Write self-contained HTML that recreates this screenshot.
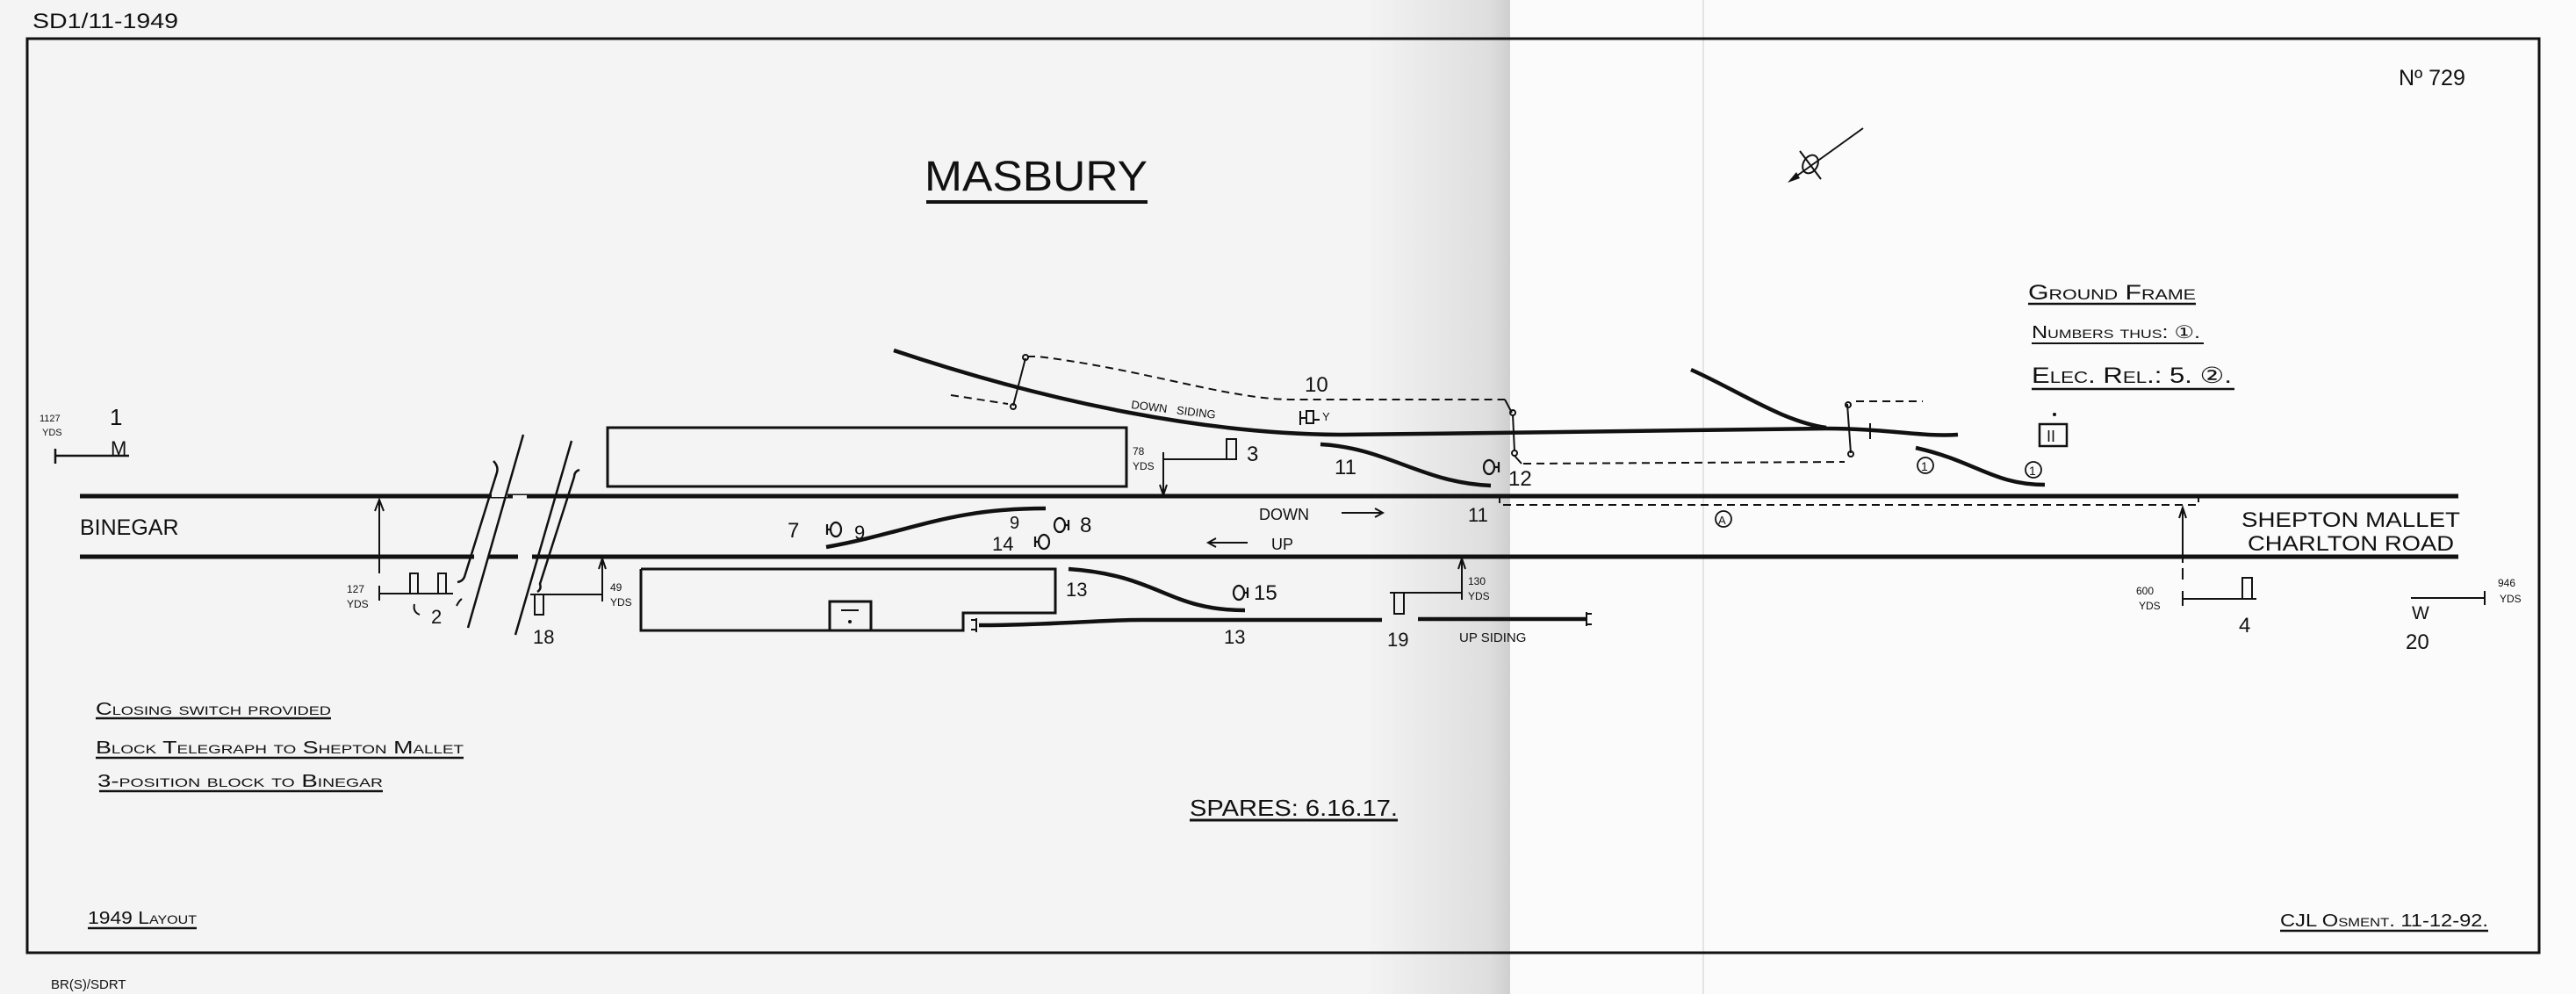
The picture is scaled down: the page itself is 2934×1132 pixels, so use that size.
<!DOCTYPE html>
<html><head><meta charset="utf-8"><style>
html,body{margin:0;padding:0}
body{width:2934px;height:1132px;overflow:hidden;background:#f5f5f5}
svg{display:block}
text{font-family:"Liberation Sans",sans-serif;fill:#111}
.sc{font-variant:small-caps}
</style></head><body>
<svg width="2934" height="1132" viewBox="0 0 2934 1132" xmlns="http://www.w3.org/2000/svg">
<defs>
<linearGradient id="fold" x1="0" x2="1" y1="0" y2="0">
<stop offset="0" stop-color="#f3f3f3"/><stop offset="0.85" stop-color="#dedede"/><stop offset="1" stop-color="#cfcfcf"/>
</linearGradient>
</defs>
<rect x="0" y="0" width="2934" height="1132" fill="#f4f4f4"/>
<rect x="1560" y="0" width="160" height="1132" fill="url(#fold)"/>
<rect x="1720" y="0" width="1214" height="1132" fill="#fbfbfb"/>
<line x1="1940" y1="0" x2="1940" y2="1132" stroke="#e4e4e4" stroke-width="2"/>

<rect x="31" y="44" width="2861" height="1041" fill="none" stroke="#111" stroke-width="3"/>

<text x="37" y="32" font-size="24" textLength="166" lengthAdjust="spacingAndGlyphs">SD1/11-1949</text>
<text x="58" y="1126" font-size="15">BR(S)/SDRT</text>

<text x="1053" y="217" font-size="48" textLength="254" lengthAdjust="spacingAndGlyphs">MASBURY</text>
<line x1="1055" y1="230" x2="1307" y2="230" stroke="#111" stroke-width="4"/>
<text x="2732" y="97" font-size="25">Nº 729</text>

<g stroke="#111" stroke-width="2" fill="none">
<line x1="2122" y1="146" x2="2040" y2="205"/>
<ellipse cx="2062" cy="187" rx="8" ry="11" transform="rotate(30 2062 187)"/>
<line x1="2050" y1="172" x2="2074" y2="204"/>
</g>
<polygon points="2036,208 2046,196 2050,203" fill="#111"/>

<g stroke="#111" stroke-width="5">
<line x1="91" y1="565" x2="2800" y2="565"/>
<line x1="91" y1="634" x2="2800" y2="634"/>
</g>
<g stroke="#f4f4f4" stroke-width="12">
<line x1="560" y1="560" x2="578" y2="560"/><line x1="584" y1="570" x2="600" y2="570"/>
<line x1="540" y1="634" x2="556" y2="634"/><line x1="590" y1="634" x2="606" y2="634"/>
</g>
<g stroke="#111" stroke-width="2.5" fill="none">
<line x1="596" y1="495" x2="533" y2="715"/>
<path d="M562 525 q6 6 4 13 L529 657 q-2 5 -8 6"/>
<line x1="651" y1="502" x2="587" y2="723"/>
<path d="M660 535 q-6 2 -6 8 L615 665 q2 6 -3 9"/>
</g>

<text x="91" y="609" font-size="25">BINEGAR</text>
<text x="2553" y="600" font-size="24" textLength="249" lengthAdjust="spacingAndGlyphs">SHEPTON MALLET</text>
<text x="2560" y="627" font-size="24" textLength="235" lengthAdjust="spacingAndGlyphs">CHARLTON ROAD</text>

<text x="45" y="480" font-size="11">1127</text><text x="48" y="496" font-size="11">YDS</text>
<text x="125" y="484" font-size="26">1</text>
<text x="126" y="518" font-size="22">M</text>
<g stroke="#111" stroke-width="2.5" fill="none">
<line x1="63" y1="519" x2="147" y2="519"/><line x1="63" y1="511" x2="63" y2="528"/>
</g>

<g stroke="#111" stroke-width="2" fill="none">
<line x1="432" y1="653" x2="432" y2="572"/><polyline points="427,582 432,569 437,582"/>
<line x1="432" y1="667" x2="432" y2="684"/>
<line x1="432" y1="676" x2="516" y2="676"/>
<rect x="467" y="653" width="9" height="23"/><rect x="499" y="653" width="9" height="23"/>
<path d="M478 700 q-8 -3 -6 -12"/><path d="M520 690 q3 -6 6 -8"/>
</g>
<text x="395" y="675" font-size="12">127</text><text x="395" y="692" font-size="12">YDS</text>
<text x="491" y="710" font-size="22">2</text>

<g stroke="#111" stroke-width="2" fill="none">
<line x1="604" y1="677" x2="686" y2="677"/><line x1="686" y1="669" x2="686" y2="685"/>
<line x1="686" y1="677" x2="686" y2="638"/><polyline points="682,648 686,636 690,648"/>
<rect x="609" y="677" width="10" height="23"/>
</g>
<text x="695" y="673" font-size="12">49</text><text x="695" y="690" font-size="12">YDS</text>
<text x="607" y="733" font-size="22">18</text>

<g stroke="#111" stroke-width="3" fill="none">
<rect x="692" y="487" width="591" height="67"/>
<polyline points="730,648 1202,648 1202,698 1097,698 1097,718 730,718 730,648"/>
<rect x="945" y="685" width="47" height="33"/>
</g>
<line x1="958" y1="695" x2="978" y2="695" stroke="#111" stroke-width="2"/>
<circle cx="968" cy="708" r="2" fill="#111"/>

<g stroke="#111" stroke-width="4.5" fill="none">
<path d="M1018 399 C1200 460 1380 495 1530 495 L1700 493 L2080 488 C2150 488 2190 498 2230 495"/>
<path d="M1926 421 C1980 445 2030 480 2080 487"/>
<path d="M1504 506 C1580 510 1620 550 1698 553"/>
<path d="M2182 510 C2250 525 2270 552 2329 552"/>
<path d="M941 623 C1040 605 1080 579 1191 579"/>
<path d="M1217 648 C1320 655 1330 695 1418 695"/>
<path d="M1115 712 C1200 712 1250 706 1300 706 L1574 706"/>
<line x1="1615" y1="705" x2="1807" y2="705"/>
</g>
<g stroke="#111" stroke-width="2" fill="none">
<line x1="1112" y1="704" x2="1112" y2="720"/><line x1="1112" y1="706" x2="1106" y2="706"/><line x1="1112" y1="717" x2="1106" y2="717"/>
<line x1="1807" y1="697" x2="1807" y2="713"/><line x1="1807" y1="699" x2="1813" y2="699"/><line x1="1807" y1="711" x2="1813" y2="711"/>
<line x1="2130" y1="482" x2="2130" y2="500"/>
</g>

<g stroke="#111" stroke-width="2" fill="none" stroke-dasharray="9,6">
<line x1="1083" y1="450" x2="1148" y2="460"/>
<path d="M1170 406 L1182 406 C1300 420 1400 455 1472 455 L1714 455"/>
<line x1="1735" y1="528" x2="2101" y2="526"/>
<line x1="2114" y1="457" x2="2190" y2="457"/>
<path d="M1708 564 L1708 575 L2504 575 L2504 565"/>
</g>
<g stroke="#111" stroke-width="2" fill="none">
<line x1="1154" y1="462" x2="1168" y2="408"/><circle cx="1154" cy="463" r="3"/><circle cx="1168" cy="407" r="3"/>
<line x1="1714" y1="455" x2="1722" y2="470"/>
<line x1="1723" y1="472" x2="1725" y2="514"/><circle cx="1723" cy="470" r="3"/><circle cx="1725" cy="516" r="3"/>
<line x1="1725" y1="519" x2="1733" y2="528"/>
<line x1="2104" y1="460" x2="2108" y2="516"/><circle cx="2105" cy="461" r="3"/><circle cx="2108" cy="517" r="3"/>
</g>

<text x="1288" y="465" font-size="13" transform="rotate(7 1288 465)">DOWN&#160;&#160;&#160;SIDING</text>
<text x="1486" y="446" font-size="24">10</text>
<g stroke="#111" stroke-width="2" fill="none">
<rect x="1488" y="468" width="8" height="14"/><line x1="1481" y1="468" x2="1481" y2="484"/><line x1="1481" y1="476" x2="1488" y2="476"/><line x1="1496" y1="478" x2="1503" y2="478"/>
</g>
<text x="1506" y="479" font-size="13">Y</text>

<g stroke="#111" stroke-width="2" fill="none">
<line x1="1325" y1="523" x2="1408" y2="523"/><line x1="1325" y1="515" x2="1325" y2="531"/>
<rect x="1397" y="500" width="11" height="23"/>
<line x1="1325" y1="523" x2="1325" y2="562"/><polyline points="1321,552 1325,564 1329,552"/>
</g>
<text x="1290" y="518" font-size="12">78</text><text x="1290" y="535" font-size="12">YDS</text>
<text x="1420" y="525" font-size="24">3</text>
<text x="1520" y="540" font-size="24">11</text>
<text x="1672" y="594" font-size="22">11</text>

<g stroke="#111" stroke-width="2.2" fill="none">
<ellipse cx="1696" cy="532" rx="6" ry="8"/><line x1="1702" y1="532" x2="1707" y2="532"/><line x1="1707" y1="526" x2="1707" y2="538"/>
<ellipse cx="1207" cy="598" rx="6" ry="8"/><line x1="1213" y1="598" x2="1217" y2="598"/><line x1="1217" y1="592" x2="1217" y2="604"/>
<ellipse cx="1189" cy="617" rx="6" ry="8"/><line x1="1183" y1="617" x2="1179" y2="617"/><line x1="1179" y1="611" x2="1179" y2="623"/>
<ellipse cx="952" cy="603" rx="6" ry="8"/><line x1="946" y1="603" x2="942" y2="603"/><line x1="942" y1="597" x2="942" y2="609"/>
<ellipse cx="1411" cy="675" rx="6" ry="8"/><line x1="1417" y1="675" x2="1421" y2="675"/><line x1="1421" y1="669" x2="1421" y2="681"/>
</g>
<text x="1718" y="553" font-size="24">12</text>
<text x="1230" y="606" font-size="24">8</text>
<text x="1150" y="602" font-size="20">9</text>
<text x="1130" y="627" font-size="22">14</text>
<text x="897" y="612" font-size="24">7</text>
<text x="973" y="614" font-size="22">9</text>
<text x="1428" y="683" font-size="24">15</text>
<text x="1214" y="679" font-size="22">13</text>
<text x="1394" y="733" font-size="22">13</text>

<text x="1434" y="592" font-size="18">DOWN</text>
<g stroke="#111" stroke-width="2" fill="none">
<line x1="1528" y1="584" x2="1574" y2="584"/><polyline points="1566,579 1575,584 1566,589"/>
<line x1="1376" y1="618" x2="1421" y2="618"/><polyline points="1385,613 1376,618 1385,623"/>
</g>
<text x="1448" y="626" font-size="18">UP</text>
<circle cx="1963" cy="591" r="9" fill="none" stroke="#111" stroke-width="1.8"/>
<text x="1957" y="597" font-size="13">A</text>

<g stroke="#111" stroke-width="2" fill="none">
<line x1="1583" y1="675" x2="1665" y2="675"/><line x1="1665" y1="667" x2="1665" y2="683"/>
<rect x="1588" y="675" width="11" height="24"/>
<line x1="1665" y1="667" x2="1665" y2="638"/><polyline points="1661,648 1665,636 1669,648"/>
</g>
<text x="1672" y="666" font-size="12">130</text><text x="1672" y="683" font-size="12">YDS</text>
<text x="1580" y="736" font-size="22">19</text>
<text x="1662" y="731" font-size="15">UP SIDING</text>

<g stroke="#111" stroke-width="1.8" fill="none">
<circle cx="2193" cy="530" r="9"/><circle cx="2316" cy="535" r="9"/>
<rect x="2323" y="483" width="31" height="25" stroke-width="2.5"/>
</g>
<text x="2188" y="536" font-size="14">1</text><text x="2311" y="541" font-size="14">1</text>
<text x="2331" y="503" font-size="18">II</text>
<circle cx="2340" cy="472" r="2" fill="#111"/>

<text x="2310" y="341" font-size="24" class="sc" textLength="191" lengthAdjust="spacingAndGlyphs">Ground Frame</text>
<line x1="2310" y1="346" x2="2501" y2="346" stroke="#111" stroke-width="2.5"/>
<text x="2314" y="385" font-size="20" class="sc" textLength="192" lengthAdjust="spacingAndGlyphs">Numbers thus: ①.</text>
<line x1="2314" y1="391" x2="2510" y2="391" stroke="#111" stroke-width="2"/>
<text x="2314" y="436" font-size="25" class="sc" textLength="228" lengthAdjust="spacingAndGlyphs">Elec. Rel.: 5. ②.</text>
<line x1="2314" y1="443" x2="2545" y2="443" stroke="#111" stroke-width="2.5"/>

<g stroke="#111" stroke-width="2" fill="none">
<line x1="2486" y1="641" x2="2486" y2="580"/><polyline points="2482,590 2486,578 2490,590"/>
<line x1="2486" y1="647" x2="2486" y2="660"/>
<line x1="2486" y1="673" x2="2486" y2="690"/>
<line x1="2486" y1="682" x2="2570" y2="682"/>
<rect x="2554" y="658" width="11" height="24"/>
</g>
<text x="2433" y="677" font-size="12">600</text><text x="2436" y="694" font-size="12">YDS</text>
<text x="2550" y="720" font-size="24">4</text>

<g stroke="#111" stroke-width="2" fill="none">
<line x1="2746" y1="681" x2="2830" y2="681"/><line x1="2830" y1="673" x2="2830" y2="689"/>
</g>
<text x="2747" y="705" font-size="21">W</text>
<text x="2740" y="739" font-size="24">20</text>
<text x="2845" y="668" font-size="12">946</text><text x="2847" y="686" font-size="12">YDS</text>

<g class="sc" font-size="20">
<text x="109" y="814" textLength="268" lengthAdjust="spacingAndGlyphs">Closing switch provided</text>
<text x="109" y="858" textLength="419" lengthAdjust="spacingAndGlyphs">Block Telegraph to Shepton Mallet</text>
<text x="111" y="896" textLength="325" lengthAdjust="spacingAndGlyphs">3-position block to Binegar</text>
<text x="100" y="1052" textLength="124" lengthAdjust="spacingAndGlyphs">1949 Layout</text>
<text x="2597" y="1055" textLength="237" lengthAdjust="spacingAndGlyphs">CJL Osment. 11-12-92.</text>
</g>
<g stroke="#111" stroke-width="2.5">
<line x1="109" y1="818" x2="377" y2="818"/>
<line x1="109" y1="863" x2="528" y2="863"/>
<line x1="113" y1="901" x2="436" y2="901"/>
<line x1="100" y1="1057" x2="224" y2="1057"/>
<line x1="2597" y1="1060" x2="2834" y2="1060"/>
</g>
<text x="1355" y="929" font-size="26" textLength="237" lengthAdjust="spacingAndGlyphs">SPARES: 6.16.17.</text>
<line x1="1355" y1="934" x2="1592" y2="934" stroke="#111" stroke-width="3"/>
</svg>
</body></html>
